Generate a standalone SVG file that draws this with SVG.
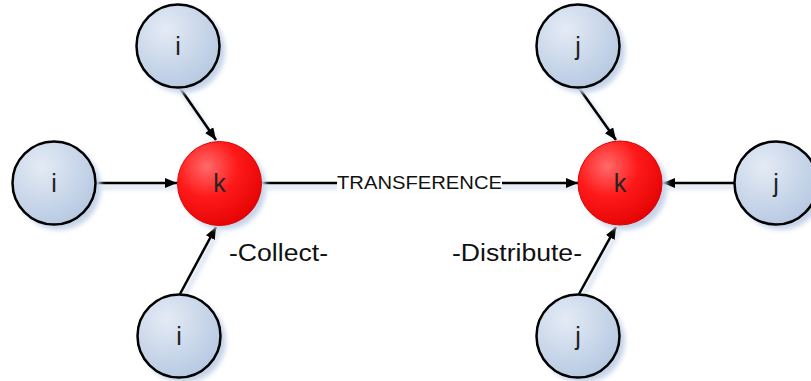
<svg xmlns="http://www.w3.org/2000/svg" width="811" height="381" viewBox="0 0 811 381">
  <defs>
    <radialGradient id="gBlue" cx="0.35" cy="0.3" r="0.8">
      <stop offset="0" stop-color="#e4ebf5"/>
      <stop offset="1" stop-color="#b3c6e0"/>
    </radialGradient>
    <radialGradient id="gRed" cx="0.35" cy="0.3" r="0.8">
      <stop offset="0" stop-color="#ff6a6a"/>
      <stop offset="0.45" stop-color="#ff1a1a"/>
      <stop offset="1" stop-color="#e00000"/>
    </radialGradient>
    <filter id="soft" x="-30%" y="-30%" width="160%" height="160%">
      <feGaussianBlur stdDeviation="2.5"/>
    </filter>
    <marker id="arrow" viewBox="0 0 12 10" refX="12" refY="5" markerWidth="12" markerHeight="10" markerUnits="userSpaceOnUse" orient="auto">
      <path d="M0,0 L12,5 L0,10 Z" fill="#000"/>
    </marker>
  </defs>
  <style>
    .shadow { fill: #c5d3e8; filter: url(#soft); }
    .leaf { fill: url(#gBlue); stroke: #000; stroke-width: 2.5; }
    .hub { fill: url(#gRed); stroke: #e00000; stroke-width: 1; }
    .lbl { font-family: "Liberation Sans", Arial, sans-serif; font-size: 25px; fill: #222; text-anchor: middle; }
    .edge { stroke: #000; stroke-width: 2.5; fill: none; }
    .edge-sh { stroke: #c5d3e8; stroke-width: 3; fill: none; filter: url(#soft); }
    .cap { font-family: "Liberation Sans", Arial, sans-serif; font-size: 23px; fill: #111; }
    .mid { font-family: "Liberation Sans", Arial, sans-serif; font-size: 18px; fill: #111; }
  </style>

  <rect width="811" height="381" fill="#fff"/>

  <!-- connectors -->
  <g id="connectors">
    <path class="edge-sh" d="M182,92 L219,144 M100,187 L180,187 M183,298 L219,230 M265,187 L581,187 M582,92 L619,144 M738,187 L666,187 M582,298 L619,230"/>
    <path class="edge" d="M180,88 L216,140" marker-end="url(#arrow)"/>
    <path class="edge" d="M97,183 L177,183" marker-end="url(#arrow)"/>
    <path class="edge" d="M180,294 L216,227" marker-end="url(#arrow)"/>
    <path class="edge" d="M262,183 L337,183"/>
    <path class="edge" d="M502,183 L578,183" marker-end="url(#arrow)"/>
    <path class="edge" d="M579,88 L616,140" marker-end="url(#arrow)"/>
    <path class="edge" d="M735,183 L663,183" marker-end="url(#arrow)"/>
    <path class="edge" d="M579,294 L616,227" marker-end="url(#arrow)"/>
    <rect x="337" y="170" width="165" height="22" fill="#fff"/>
    <text class="mid" x="337" y="189" textLength="165" lengthAdjust="spacingAndGlyphs">TRANSFERENCE</text>
  </g>

  <!-- left side: collect -->
  <g id="i-top">
    <circle class="shadow" cx="183" cy="51" r="42"/>
    <circle class="leaf" cx="178" cy="46" r="41.5"/>
    <text class="lbl" x="178" y="55">i</text>
  </g>
  <g id="i-left">
    <circle class="shadow" cx="59" cy="188" r="42"/>
    <circle class="leaf" cx="54" cy="183" r="41.5"/>
    <text class="lbl" x="54" y="192">i</text>
  </g>
  <g id="i-bottom">
    <circle class="shadow" cx="184" cy="341" r="42"/>
    <circle class="leaf" cx="179" cy="336" r="41.5"/>
    <text class="lbl" x="179" y="345">i</text>
  </g>
  <g id="k-collect">
    <circle class="shadow" cx="224" cy="188" r="42"/>
    <circle class="hub" cx="219.5" cy="183.5" r="42"/>
    <text class="lbl" x="219.5" y="192">k</text>
  </g>

  <!-- right side: distribute -->
  <g id="j-top">
    <circle class="shadow" cx="583" cy="51" r="42"/>
    <circle class="leaf" cx="578" cy="46" r="41.5"/>
    <text class="lbl" x="578" y="55">j</text>
  </g>
  <g id="j-right">
    <circle class="shadow" cx="781" cy="188" r="42"/>
    <circle class="leaf" cx="776" cy="183" r="41.5"/>
    <text class="lbl" x="776" y="192">j</text>
  </g>
  <g id="j-bottom">
    <circle class="shadow" cx="583" cy="341" r="42"/>
    <circle class="leaf" cx="578" cy="336" r="41.5"/>
    <text class="lbl" x="578" y="345">j</text>
  </g>
  <g id="k-distribute">
    <circle class="shadow" cx="625" cy="188" r="42"/>
    <circle class="hub" cx="620" cy="183" r="42"/>
    <text class="lbl" x="620" y="192">k</text>
  </g>

  <!-- captions -->
  <text class="cap" x="229" y="261" textLength="99" lengthAdjust="spacingAndGlyphs">-Collect-</text>
  <text class="cap" x="452" y="261" textLength="130" lengthAdjust="spacingAndGlyphs">-Distribute-</text>
</svg>
